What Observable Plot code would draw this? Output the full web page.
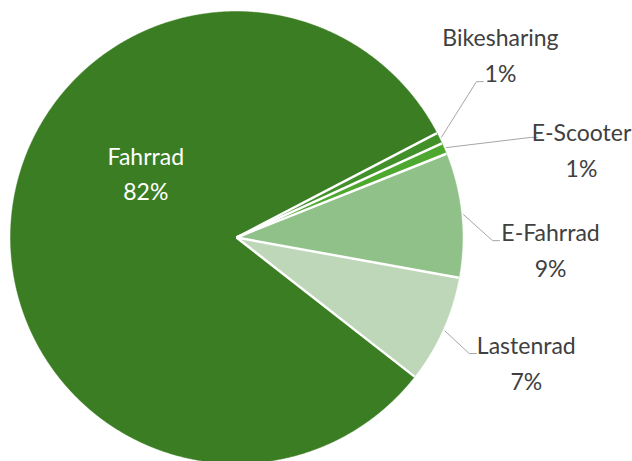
<!DOCTYPE html>
<html><head><meta charset="utf-8">
<script src="https://cdn.jsdelivr.net/npm/d3@7"></script>
<script src="https://cdn.jsdelivr.net/npm/@observablehq/plot@0.6"></script>
<style>body{margin:0;background:#fff;overflow:hidden}</style>
</head><body><div id="chart"></div>
<script>
// ---- data ----
const categories = ["Fahrrad", "Bikesharing", "E-Scooter", "E-Fahrrad", "Lastenrad"];
const shares = [81.8, 0.8, 0.8, 8.9, 7.7];
const shareLabels = ["82%", "1%", "1%", "9%", "7%"];
const colors = ["#3b7d23", "#41902a", "#4ea72e", "#8fc188", "#bdd7b8"];

// ---- layout (not data) ----
const W = 632, H = 461, cx = 236, cy = 237, R = 226;
const startDeg = 128;
const labelLayout = [
  {inside: true, r: 0.49, angle: 305},
  {elbowR: 1.266, elbowAngle: 57.0, dx: 17, dy: -27},
  {elbowR: 1.374, elbowAngle: 71.2, dx: 44, dy: 12.5},
  {elbowR: 1.133, elbowAngle: 90.7, dx: 51, dy: 9},
  {elbowR: 1.151, elbowAngle: 116.5, dx: 50, dy: 8.5}
];

const rad = d => d * Math.PI / 180;
const pol = (r, a) => [r * Math.sin(a), r * Math.cos(a)];

const arcs = d3.pie().sort(null).value(d => d.v)
  .startAngle(rad(startDeg)).endAngle(rad(startDeg) + 2 * Math.PI)(
    categories.map((name, i) => ({name, v: shares[i], label: shareLabels[i], i}))
  );

// slice polygons
const slicePts = [];
for (const a of arcs) {
  const n = Math.max(2, Math.ceil((a.endAngle - a.startAngle) / 0.004));
  slicePts.push({name: a.data.name, x: 0, y: 0});
  for (let k = 0; k <= n; k++) {
    const t = a.startAngle + (a.endAngle - a.startAngle) * k / n;
    const [x, y] = pol(1, t);
    slicePts.push({name: a.data.name, x, y});
  }
}
// separators
const seps = arcs.map(a => {
  const [x2, y2] = pol(1.0, a.startAngle);
  return {x1: 0, y1: 0, x2, y2};
});

// leaders and labels
const leaderPts = [], outLabels = [], inLabels = [];
arcs.forEach((a, i) => {
  const L = labelLayout[i];
  const mid = (a.startAngle + a.endAngle) / 2;
  const text = a.data.name + "\n" + a.data.label;
  if (L.inside) {
    const [x, y] = pol(L.r, rad(L.angle));
    inLabels.push({x, y, text});
    return;
  }
  const [sx, sy] = pol(1.01, mid);
  const [ex, ey] = pol(L.elbowR, rad(L.elbowAngle));
  const hx = ex + 7 / R;
  leaderPts.push({name: a.data.name, x: sx, y: sy});
  leaderPts.push({name: a.data.name, x: ex, y: ey});
  leaderPts.push({name: a.data.name, x: hx, y: ey});
  outLabels.push({x: hx + L.dx / R, y: ey - L.dy / R, text});
});

const font = "Lato, 'Noto Sans', sans-serif";
const chart = Plot.plot({
  width: W, height: H,
  margin: 0,
  x: {domain: [-cx / R, (W - cx) / R], axis: null},
  y: {domain: [-(H - cy) / R, cy / R], axis: null},
  color: {domain: categories, range: colors},
  style: {background: "#fff", fontFamily: font},
  marks: [
    Plot.line(slicePts, {x: "x", y: "y", z: "name", fill: "name", stroke: "name", strokeWidth: 0.5, curve: "linear-closed"}),
    Plot.link(seps, {x1: "x1", y1: "y1", x2: "x2", y2: "y2", stroke: "white", strokeWidth: 2.5}),
    Plot.line(leaderPts, {x: "x", y: "y", z: "name", stroke: "#a6a6a6", strokeWidth: 1, curve: "linear"}),
    Plot.text(outLabels, {x: "x", y: "y", dy: -2, text: "text", fill: "#404040", fontSize: 23, lineHeight: 36 / 23, textAnchor: "middle", lineAnchor: "middle", fontFamily: font}),
    Plot.text(inLabels, {x: "x", y: "y", dy: -3, text: "text", fill: "white", fontSize: 23, lineHeight: 36 / 23, textAnchor: "middle", lineAnchor: "middle", fontFamily: font})
  ]
});
document.getElementById("chart").append(chart);
</script>
</body></html>
